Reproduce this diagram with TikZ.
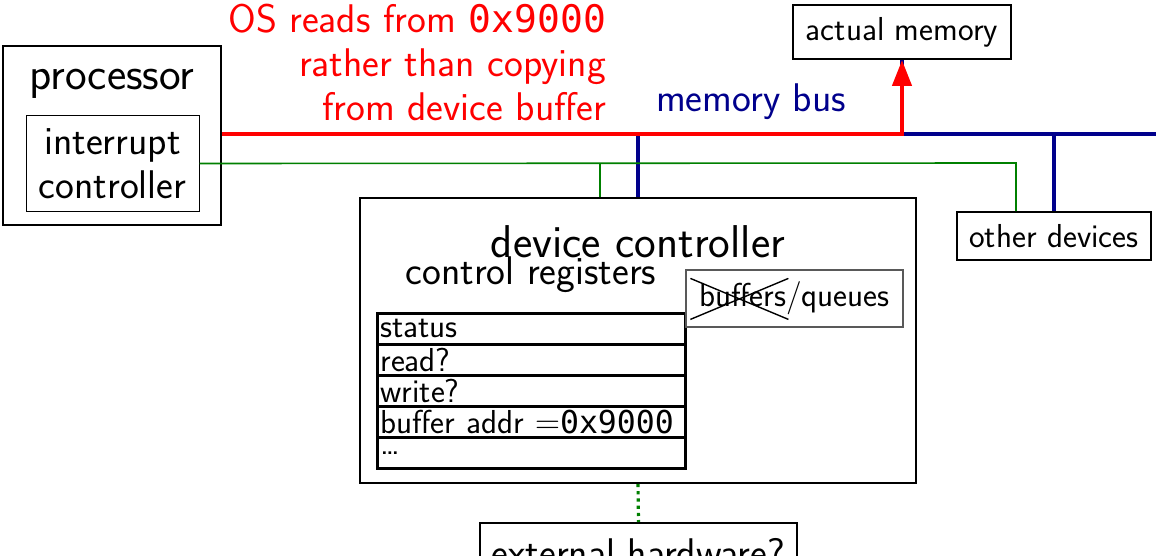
\documentclass[tikz,border=0pt]{standalone}
\usepackage{fontspec}
\setmonofont[Scale=0.95]{DejaVu Sans Mono}
\renewcommand{\familydefault}{\sfdefault}
\usepackage{tikz}
\usetikzlibrary{arrows.meta, positioning, calc}
\definecolor{busblue}{RGB}{0,0,140}
\definecolor{irqgreen}{RGB}{0,128,0}

\begin{document}
\begin{tikzpicture}[
  x=0.5pt, y=-0.5pt,
  bigtxt/.style={font=\fontsize{23}{27}\selectfont},
  midtxt/.style={font=\fontsize{20}{22.2}\selectfont},
  smalltxt/.style={font=\fontsize{16.6}{19}\selectfont},
  box/.style={draw, line width=1pt, inner sep=0pt, align=center},
  reg/.style={draw, line width=1.4pt, minimum width=154pt, minimum height=15.5pt,
              text width=151pt, inner xsep=1.5pt, inner ysep=0pt, align=left,
              smalltxt, anchor=north west},
  membus/.style={draw=busblue, line width=1.7pt},
  osread/.style={draw=red, line width=2.2pt, -{Triangle[length=13pt,width=9.5pt]}},
  irq/.style={draw=irqgreen, line width=0.8pt}
]
  \useasboundingbox (0,0) rectangle (1156,556);

  % processor side
  \node[box, line width=1.25pt, minimum width=109pt, minimum height=89.5pt] (proc) at (112,135.5) {};
  \node[bigtxt] (proctxt) at (112,84) {processor};
  \node[box, line width=0.5pt, midtxt, minimum width=86.5pt, minimum height=47.5pt] (intc) at (112.5,163.5) {interrupt\\controller};

  % memory and other devices
  \node[box, smalltxt, minimum width=109pt, minimum height=27pt] (mem) at (902,32) {actual memory};
  \node[box, smalltxt, minimum width=97pt, minimum height=24pt] (other) at (1054,236) {other devices};

  % device controller
  \node[box, minimum width=278pt, minimum height=142.5pt] (dev) at (638,340.5) {};
  \node[bigtxt] (devtxt) at (638,242) {device controller};
  \node[midtxt] (regtxt) at (531,275) {control registers};
  \foreach \t [count=\i] in {status, read?, write?, buffer addr $=$\texttt{0x9000}, {\ldots}}
    \node[reg] (r\i) at (376,{312+31*(\i-1)}) {\t};
  \node[box, draw=black!65, line width=0.6pt, smalltxt, minimum width=108.5pt, minimum height=28.5pt] (buf) at (794.5,298.5) {buffers/queues};
  \draw[line width=0.7pt] ($(buf.north west)+(5,9)$) -- ($(buf.north west)+(103,50)$);
  \draw[line width=0.7pt] ($(buf.north west)+(5,50)$) -- ($(buf.north west)+(103,9)$);

  \node[box, midtxt, minimum width=158.5pt, minimum height=30pt, anchor=north] (ext) at (638.5,522) {external hardware?};

  % buses
  \coordinate (bus) at (0,134);
  \coordinate (busend) at (1170,134);
  \draw[membus] (proc.east |- bus) -- (busend);
  \draw[membus] (dev.north |- bus) -- (dev.north);
  \draw[membus] (other.north |- bus) -- (other.north);
  \draw[membus] (mem.south |- bus) -- (mem.south);
  \draw[osread] (proc.east |- bus) -- (mem.south |- bus) -- (mem.south);

  \coordinate (irqdev) at (600,163);
  \coordinate (irqother) at (1016,163);
  \draw[irq] (intc.east) -- (irqother) -- (irqother |- other.north);
  \draw[irq] (irqdev) -- (irqdev |- dev.north);
  \draw[irq, line width=1.6pt, dotted] (dev.south) -- (ext.north);

  \node[midtxt, text=busblue] (bustxt) at (751,102) {memory bus};
  \node[midtxt, text=red, align=right, anchor=east] (osnote) at (613,62.5)
    {OS reads from \texttt{0x9000}\\rather than copying\\from device buffer};
\end{tikzpicture}
\end{document}
